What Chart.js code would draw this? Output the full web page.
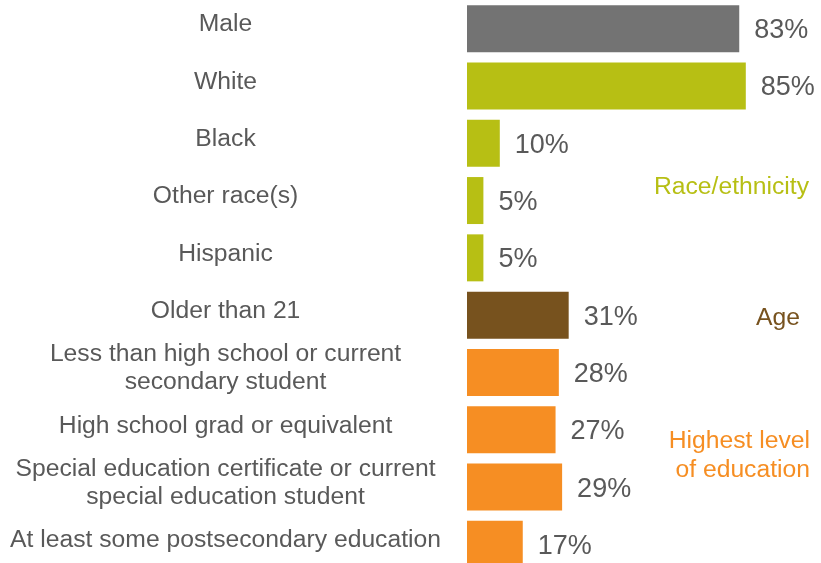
<!DOCTYPE html>
<html>
<head>
<meta charset="utf-8">
<script src="https://cdn.jsdelivr.net/npm/chart.js@4.4.1/dist/chart.umd.min.js"></script>
<style>
  html, body { margin: 0; padding: 0; background: #fff; overflow: hidden; }
  #wrap { position: relative; width: 821px; height: 573px; }
</style>
</head>
<body>
<div id="wrap"><canvas id="chart" width="821" height="573"></canvas></div>
<script>
// ── Data ────────────────────────────────────────────────────
const CATEGORIES = [
  'Male',
  'White',
  'Black',
  'Other race(s)',
  'Hispanic',
  'Older than 21',
  ['Less than high school or current', 'secondary student'],
  'High school grad or equivalent',
  ['Special education certificate or current', 'special education student'],
  'At least some postsecondary education',
];
const VALUES = [83, 85, 10, 5, 5, 31, 28, 27, 29, 17];
const GROUPS = ['sex', 'race', 'race', 'race', 'race', 'age', 'edu', 'edu', 'edu', 'edu'];

// Group -> colour
const COLORS = {
  sex:  '#737373',
  race: '#b7bf14',
  age:  '#77521e',
  edu:  '#f68e23',
};
const TEXT = '#595959';
const FONT = "'Liberation Sans', Arial, sans-serif";
const SIZE = 24.7;       // category labels + group captions
const VALUE_SIZE = 27;   // percentage labels

// Group captions on the right: anchored to a category index
const CAPTIONS = [
  { lines: ['Race/ethnicity'], color: COLORS.race, at: 3, dy: -13, right: 809 },
  { lines: ['Age'], color: COLORS.age, at: 5, dy: 3, right: 800 },
  { lines: ['Highest level', 'of education'], color: COLORS.edu, at: 7.5, dy: -3, right: 810 },
];

// ── Plugins ─────────────────────────────────────────────────
const valueLabels = {
  id: 'valueLabels',
  afterDatasetsDraw(chart) {
    const { ctx } = chart;
    const meta = chart.getDatasetMeta(0);
    ctx.save();
    ctx.font = VALUE_SIZE + 'px ' + FONT;
    ctx.fillStyle = TEXT;
    ctx.textAlign = 'left';
    ctx.textBaseline = 'middle';
    meta.data.forEach((bar, i) => {
      ctx.fillText(VALUES[i] + '%', bar.x + 15, bar.y + 2);
    });
    ctx.restore();
  },
};

const groupCaptions = {
  id: 'groupCaptions',
  afterDraw(chart) {
    const { ctx } = chart;
    const y = chart.scales.y;
    const step = y.getPixelForValue(1) - y.getPixelForValue(0);
    ctx.save();
    ctx.font = SIZE + 'px ' + FONT;
    ctx.textAlign = 'right';
    ctx.textBaseline = 'middle';
    CAPTIONS.forEach(c => {
      const cy = y.getPixelForValue(0) + step * c.at + c.dy;
      const lh = 29;
      const top = cy - (c.lines.length - 1) * lh / 2;
      ctx.fillStyle = c.color;
      c.lines.forEach((t, k) => ctx.fillText(t, c.right, top + k * lh));
    });
    ctx.restore();
  },
};

// ── Chart ───────────────────────────────────────────────────
new Chart(document.getElementById('chart'), {
  type: 'bar',
  data: {
    labels: CATEGORIES,
    datasets: [{
      data: VALUES,
      backgroundColor: GROUPS.map(g => COLORS[g]),
      borderWidth: 0,
      barPercentage: 0.82,
      categoryPercentage: 1,
    }],
  },
  options: {
    indexAxis: 'y',
    responsive: false,
    animation: false,
    events: [],
    layout: { padding: { left: 0, right: 26, top: 0, bottom: 0 } },
    plugins: {
      legend: { display: false },
      tooltip: { enabled: false },
    },
    scales: {
      x: {
        display: false,
        min: 0,
        max: 100,
      },
      y: {
        grid: { display: false, drawTicks: false },
        border: { display: false },
        afterFit(scale) {
          scale.width = 467;
          scale.paddingTop = 0;
          scale.paddingBottom = 0;
        },
        ticks: {
          color: TEXT,
          font: { family: FONT, size: SIZE, lineHeight: 1.14 },
          crossAlign: 'center',
          padding: 26,
          labelOffset: -4,
          autoSkip: false,
        },
      },
    },
  },
  plugins: [valueLabels, groupCaptions],
});
</script>
</body>
</html>
